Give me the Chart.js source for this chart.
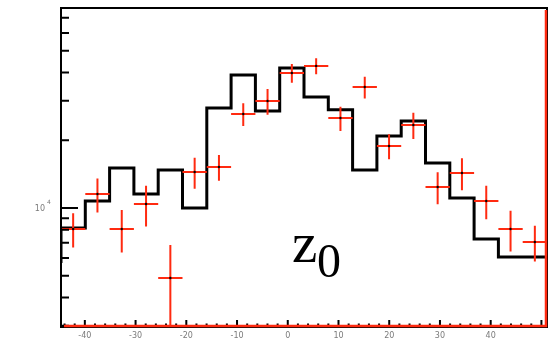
<!DOCTYPE html>
<html>
<head>
<meta charset="utf-8">
<script src="https://cdn.jsdelivr.net/npm/chart.js@4.4.1/dist/chart.umd.min.js"></script>
<style>
  html, body { margin: 0; padding: 0; background: #fff; }
  #wrap { width: 551px; height: 342px; }
</style>
</head>
<body>
<div id="wrap"><canvas id="z0Chart" width="551" height="342"></canvas></div>
<script>
// bin edges of the z0 histogram (20 bins)
const binEdges = [-44.7, -39.91, -35.12, -30.33, -25.54, -20.75, -15.96, -11.17, -6.38, -1.59,
  3.2, 7.99, 12.78, 17.57, 22.36, 27.15, 31.94, 36.73, 41.52, 46.31, 51.1];
// simulation (black step line)
const mcCounts = [5700, 8150, 10740, 15050, 11540, 14750, 10000, 27830, 39000, 27000,
  41900, 31100, 27300, 14750, 20900, 24350, 15850, 11080, 7280, 6060];
// data (red crosses)
const dataCounts = [8070, 11540, 8070, 10420, 4890, 14450, 15210, 26170, 29900, 39800,
  42800, 25100, 34500, 18870, 23390, 12400, 14300, 10740, 8070, 7060];
const dataErrors = [1400, 2000, 1730, 2150, 1960, 2280, 1990, 3040, 3920, 3820,
  3510, 3090, 3830, 2400, 3130, 2010, 2320, 1830, 1660, 1280];
const xTickLabels = [-40, -30, -20, -10, 0, 10, 20, 30, 40];
const yMajorTicks = [10000];
const yMinorTicks = [3000, 4000, 5000, 6000, 7000, 8000, 9000, 20000, 30000, 40000, 50000, 60000, 70000];

const RED = '#ff2a10';

const histPoints = binEdges.map((e, i) => ({ x: e, y: mcCounts[Math.min(i, mcCounts.length - 1)] }));
const dataPoints = dataCounts.map((v, i) => ({ x: (binEdges[i] + binEdges[i + 1]) / 2, y: v }));

// ROOT-like frame, inner ticks, error crosses and labels
const rootFrame = {
  id: 'rootFrame',
  afterDatasetsDraw(chart) {
    const { ctx, chartArea: a, scales: { x, y } } = chart;
    ctx.save();
    ctx.beginPath();
    ctx.rect(a.left, a.top, a.right - a.left, a.bottom - a.top);
    ctx.clip();
    ctx.strokeStyle = RED;
    ctx.lineWidth = 2;
    dataPoints.forEach((p, i) => {
      const cx = x.getPixelForValue(p.x);
      const cy = y.getPixelForValue(p.y);
      const x0 = x.getPixelForValue(binEdges[i]);
      const x1 = x.getPixelForValue(binEdges[i + 1]);
      const yt = y.getPixelForValue(p.y + dataErrors[i]);
      const lo = p.y - dataErrors[i];
      const yb = lo > 0 ? y.getPixelForValue(lo) : a.bottom + 5;
      ctx.beginPath();
      ctx.moveTo(x0, cy); ctx.lineTo(x1, cy);
      ctx.moveTo(cx, yt); ctx.lineTo(cx, yb);
      ctx.stroke();
    });
    ctx.fillStyle = '#000';
    dataPoints.forEach(p => {
      ctx.beginPath();
      ctx.arc(x.getPixelForValue(p.x), y.getPixelForValue(p.y), 1.2, 0, Math.PI * 2);
      ctx.fill();
    });
    ctx.restore();

    // frame
    ctx.save();
    ctx.strokeStyle = '#000';
    ctx.lineWidth = 2;
    ctx.strokeRect(a.left, a.top, a.right - a.left, a.bottom - a.top);

    // y ticks (inside, left)
    ctx.lineWidth = 2;
    ctx.beginPath();
    yMinorTicks.forEach(v => {
      const py = y.getPixelForValue(v);
      ctx.moveTo(a.left, py); ctx.lineTo(a.left + 8, py);
    });
    yMajorTicks.forEach(v => {
      const py = y.getPixelForValue(v);
      ctx.moveTo(a.left, py); ctx.lineTo(a.left + 17, py);
    });
    ctx.stroke();

    // x ticks (inside, bottom)
    ctx.beginPath();
    for (let v = Math.ceil(x.min / 2) * 2; v <= x.max; v += 2) {
      const px = x.getPixelForValue(v);
      const len = v % 10 === 0 ? 7 : 3.5;
      ctx.moveTo(px, a.bottom); ctx.lineTo(px, a.bottom - len);
    }
    ctx.stroke();

    // red bottom and right edges
    ctx.strokeStyle = RED;
    ctx.lineWidth = 2.5;
    ctx.beginPath();
    ctx.moveTo(a.left + 3, a.bottom - 1); ctx.lineTo(a.right - 1, a.bottom - 1);
    ctx.lineTo(a.right - 1, a.top + 2);
    ctx.stroke();

    // tick labels
    ctx.fillStyle = '#7a7a7a';
    ctx.font = '8px "DejaVu Sans"';
    ctx.textAlign = 'center';
    ctx.textBaseline = 'top';
    xTickLabels.forEach(v => {
      ctx.fillText(String(v), x.getPixelForValue(v), a.bottom + 5);
    });
    const py4 = y.getPixelForValue(yMajorTicks[0]);
    ctx.textAlign = 'right';
    ctx.textBaseline = 'middle';
    ctx.fillText('10', 45, py4 + 1);
    ctx.font = '6px "DejaVu Sans"';
    ctx.textAlign = 'left';
    ctx.fillText('4', 47, py4 - 6);

    // variable name
    ctx.fillStyle = '#000';
    ctx.textBaseline = 'alphabetic';
    ctx.font = '57px "Liberation Serif"';
    ctx.fillText('z', 292, 262);
    ctx.font = '48px "Liberation Serif"';
    ctx.fillText('0', 317, 277);
    ctx.restore();
  }
};

const ctx = document.getElementById('z0Chart').getContext('2d');
new Chart(ctx, {
  type: 'line',
  data: {
    datasets: [
      { label: 'MC', data: histPoints, stepped: 'after', borderColor: '#000', borderWidth: 3,
        pointRadius: 0, fill: false, order: 2 },
      { label: 'Data', data: dataPoints, showLine: false, pointRadius: 0, order: 1 }
    ]
  },
  options: {
    responsive: false,
    animation: false,
    layout: { padding: { left: 61, top: 8, right: 4, bottom: 15 } },
    plugins: { legend: { display: false }, tooltip: { enabled: false } },
    scales: {
      x: { type: 'linear', min: binEdges[0], max: binEdges[binEdges.length - 1], display: false },
      y: { type: 'logarithmic', min: 2960, max: 77400, display: false }
    }
  },
  plugins: [rootFrame]
});
</script>
</body>
</html>
